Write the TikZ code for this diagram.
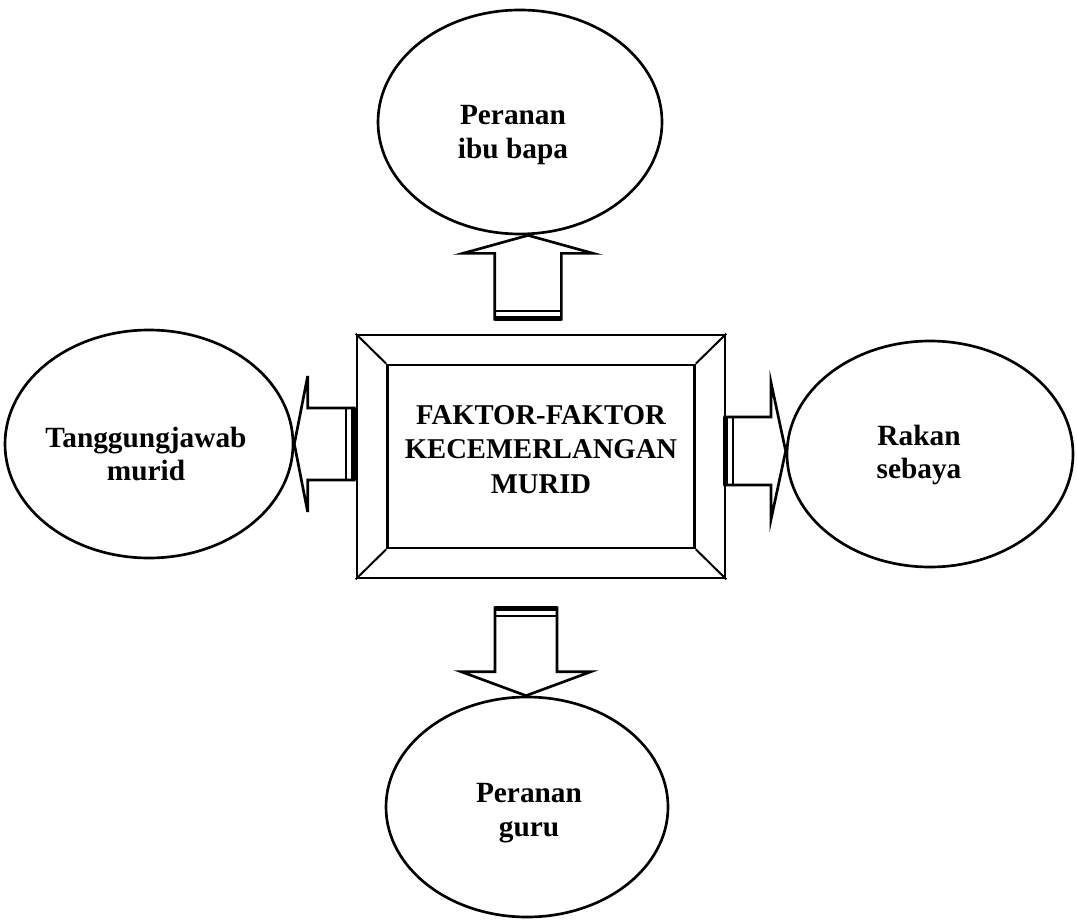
\documentclass[tikz,border=0pt]{standalone}
\usepackage{fontspec}
\setmainfont{Liberation Serif}
\usetikzlibrary{shapes.geometric, calc, positioning}
\tikzset{
  factor/.style={ellipse, draw=black, line width=2pt, minimum width=213pt, minimum height=168pt, inner sep=0pt},
  factortext/.style={align=center, font=\fontsize{22}{25}\selectfont\bfseries},
  mainbox/.style={rectangle, draw=black, line width=2pt, inner sep=0pt},
  arrowline/.style={line width=2pt, line join=miter},
}
% block arrow: base, tip, half shaft, half head, head length
\newcommand{\blockarrow}[5]{%
  \coordinate (ba-neck) at ($(#2)!#5!(#1)$);
  \draw[arrowline] ($(#1)!#3!90:(#2)$) -- ($(ba-neck)!#3!90:(#2)$) -- ($(ba-neck)!#4!90:(#2)$) -- (#2)
    -- ($(ba-neck)!#4!-90:(#2)$) -- ($(ba-neck)!#3!-90:(#2)$) -- ($(#1)!#3!-90:(#2)$);
  \coordinate (ba-thick) at ($(#1)!1.9pt!(#2)$);
  \coordinate (ba-thin) at ($(#1)!7.2pt!(#2)$);
  \draw[line width=3.75pt] ($(ba-thick)!#3!90:(#2)$) -- ($(ba-thick)!#3!-90:(#2)$);
  \draw[line width=1.6pt] ($(ba-thin)!#3!90:(#2)$) -- ($(ba-thin)!#3!-90:(#2)$);
}
\begin{document}
\begin{tikzpicture}[x=0.75pt, y=-0.75pt]
\useasboundingbox (0,0) rectangle (1077,920);

% Central box with bevelled frame
\node[mainbox, minimum width=276pt, minimum height=182.25pt] (box) at (541,456.5) {};
\node[mainbox, minimum width=230.25pt, minimum height=137.25pt] (inner) at (box.center) {};
\foreach \c in {north west, north east, south west, south east}
  \draw[line width=1.5pt] (box.\c) -- (inner.\c);
\node[factortext, font=\fontsize{21.5}{26}\selectfont\bfseries] (title) at ($(box.center)+(0,-7)$) {FAKTOR-FAKTOR\\KECEMERLANGAN\\MURID};

% Factors
\node[factor] (ibu) at (520,122) {};
\node[factortext] (ibuText) at ($(ibu.center)+(-7,13)$) {Peranan\\ibu bapa};

\node[factor, minimum width=211.5pt, minimum height=165pt] (guru) at (527,807) {};
\node[factortext] (guruText) at ($(guru.center)+(2,6)$) {Peranan\\guru};

\node[factor, minimum width=216pt, minimum height=171pt] (murid) at (149,444) {};
\node[factortext] (muridText) at ($(murid.center)+(-3,10)$) {Tanggungjawab\\murid};

\node[factor, minimum width=214.5pt, minimum height=169.5pt] (rakan) at (930,454) {};
\node[factortext] (rakanText) at ($(rakan.center)+(-11,1)$) {Rakan\\sebaya};

% Arrows
\coordinate (upBase) at ($(box.north)+(-13,-13)$);
\coordinate (upTip) at (upBase |- ibu.south);
\blockarrow{upBase}{upTip}{25pt}{48.75pt}{13.5pt}

\coordinate (downBase) at ($(box.south)+(-15,27)$);
\coordinate (downTip) at (downBase |- guru.north);
\blockarrow{downBase}{downTip}{23.25pt}{48.75pt}{18pt}

\coordinate (leftBase) at ($(box.west)+(0,-12.5)$);
\coordinate (leftTip) at (leftBase -| murid.east);
\blockarrow{leftBase}{leftTip}{27pt}{51pt}{10pt}

\coordinate (rightBase) at ($(box.east)+(-3,-5.5)$);
\coordinate (rightTip) at (rightBase -| rakan.west);
\blockarrow{rightBase}{rightTip}{25.5pt}{51.4pt}{11pt}

\end{tikzpicture}
\end{document}
